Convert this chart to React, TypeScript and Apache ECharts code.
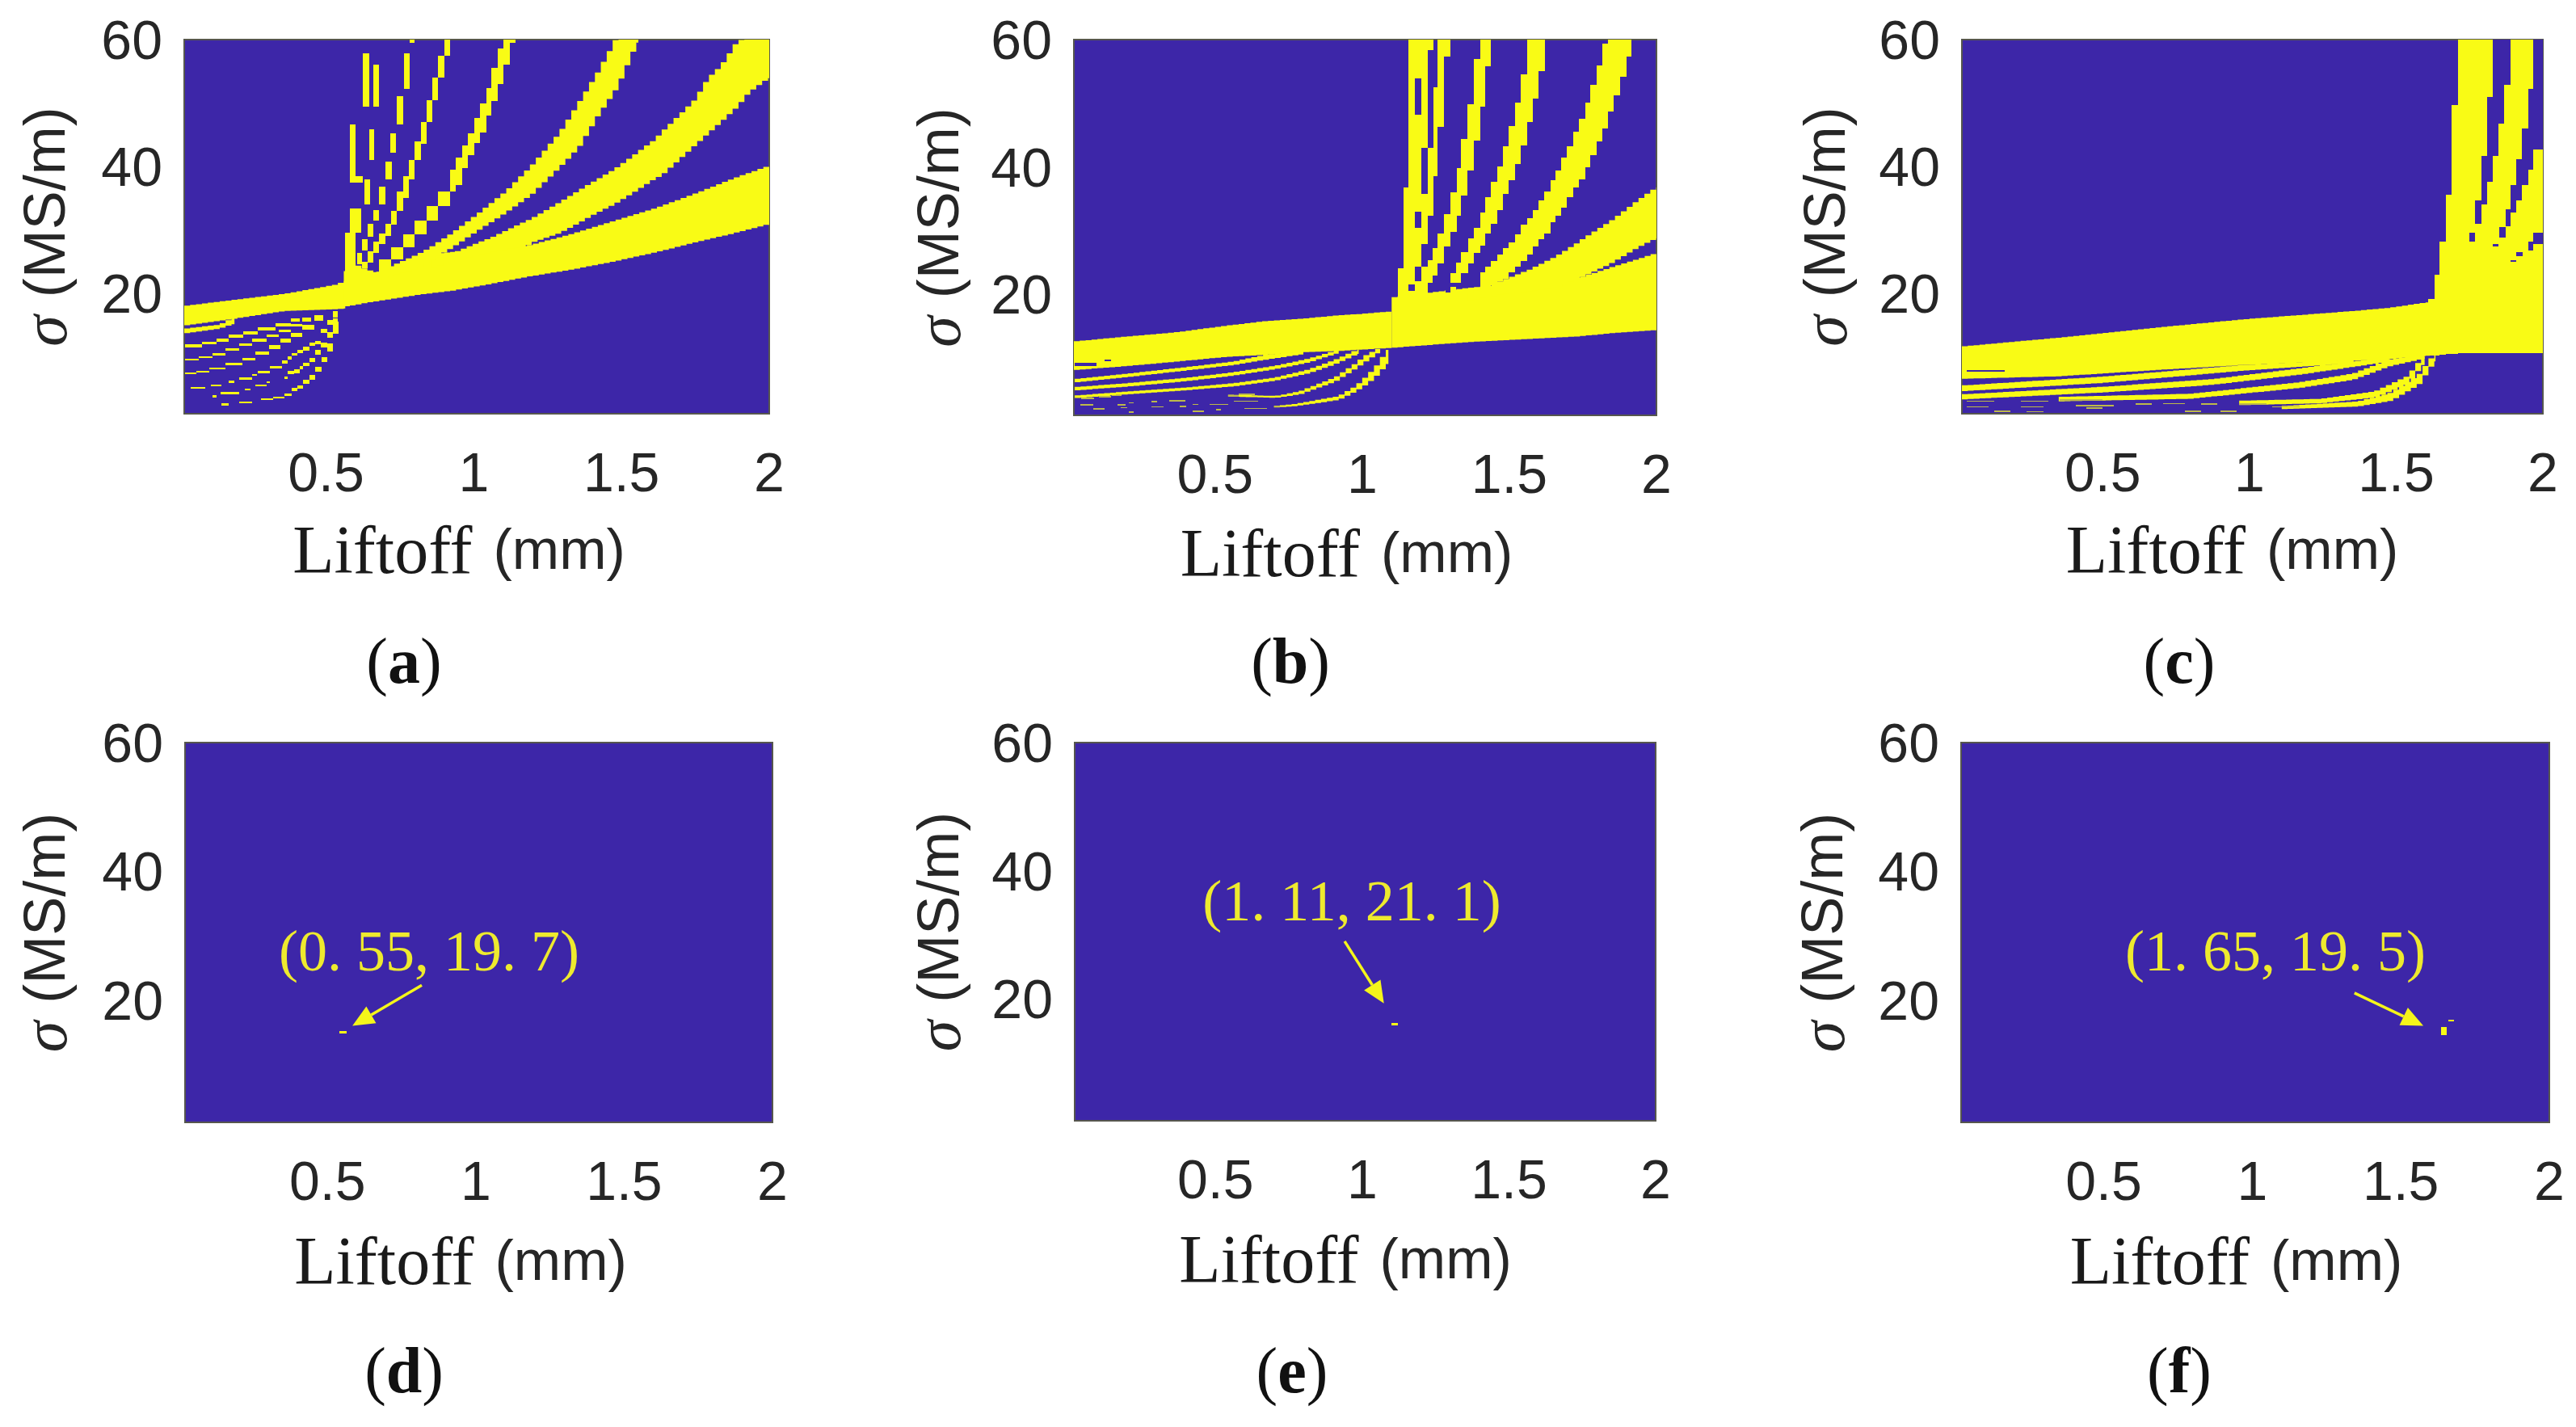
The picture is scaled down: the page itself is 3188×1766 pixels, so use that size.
import React, { useEffect, useRef } from "react";
import * as echarts from "echarts";

type Row = number[];
const INDIGO = "#3D26A8";
const YELLOW = "#F9FB15";
const FAINT = "#bdb94a";
const COLUMN = 0.02; // width in mm of one column of the original raster

const xTicks = [0.5, 1, 1.5, 2];
const yTicks = [20, 40, 60];

// ---------- panel (a): [x, low, high] outlines of the yellow regions
const aLeft: Row[] = [[0.02, 14.9, 18], [0.18, 15.9, 18.9], [0.36, 17.2, 19.9], [0.54, 17.5, 21.4], [0.565, 17.6, 22]];
const aSecond: Row[] = [[0.02, 13.65, 14.4], [0.14, 14.4, 15.05], [0.19, 15.2, 16.2]];
const aBandA: Row[] = [[0.56, 17.9, 22], [0.58, 18, 25], [0.64, 18.5, 23.7], [0.68, 18.8, 23.2], [0.82, 19.8, 26], [0.928, 20.4, 26.5], [1.056, 21.45, 27], [1.183, 22.6, 27.5], [1.329, 23.7, 29.3], [1.475, 25, 31.4], [1.621, 26.5, 33.5], [1.749, 28, 35.7], [1.885, 29.5, 38.2], [2, 30.9, 40.1]];
const aBandB: Row[] = [[0.856, 24, 25.2], [0.928, 25, 26.3], [1.065, 26.5, 28.9], [1.183, 27.5, 31.5], [1.2, 28, 31.85], [1.293, 29.5, 34.4], [1.338, 30.6, 35.7], [1.402, 32.3, 37.5], [1.475, 34, 39.5], [1.52, 35.25, 41], [1.612, 38, 44.2], [1.639, 38.65, 45.5], [1.749, 43.3, 50.5], [1.794, 45.2, 53.9], [1.84, 47.1, 56], [1.895, 49.5, 59.9], [1.931, 51.6, 60], [2, 54, 60]];
const aBandC: Row[] = [[0.67, 22, 23.2], [0.818, 24, 26.3], [0.856, 25.2, 27.3], [0.928, 27.2, 29.5], [1.019, 30, 32.7], [1.11, 32.7, 36.1], [1.2, 35.7, 40.3], [1.293, 39.9, 45.4], [1.357, 43, 50.1], [1.42, 47.9, 54.8], [1.48, 52, 59.9], [1.493, 53.1, 60], [1.557, 59.9, 60]];

// stair-stepped lines: [column start, low, high], the last row only closes the stair
const aLineD: Row[] = [[0.68, 23.3, 25.3], [0.72, 25.3, 27.3], [0.76, 27.3, 29.3], [0.8, 29.3, 31.5], [0.84, 31.5, 33.8], [0.88, 33.8, 36], [0.92, 36, 39.5], [0.939, 37, 41.4], [0.96, 39.7, 43.3], [0.981, 41.8, 45.2], [1.001, 43.7, 47.6], [1.022, 45.4, 49.9], [1.042, 48, 52.4], [1.06, 50.3, 55.6], [1.081, 53, 58.6], [1.101, 56, 60], [1.121, 59.5, 60], [1.142]];
const aLineE: Row[] = [[0.66, 26.3, 28.1], [0.68, 27.7, 29.4], [0.7, 29, 31], [0.72, 30.8, 33], [0.74, 33, 36], [0.76, 35, 38.5], [0.78, 38, 41], [0.8, 41, 44], [0.82, 43.5, 47], [0.84, 47, 50.5], [0.86, 50.5, 54], [0.88, 54, 57.5], [0.9, 57.5, 60], [0.92]];
const aFan1: Row[] = [[0.024, 11.4, 11.9], [0.08, 11.9, 12.4], [0.13, 12.4, 12.9], [0.17, 13, 13.5], [0.22, 13.5, 14], [0.27, 14.1, 14.6], [0.33, 14.8, 15.3], [0.38, 15.5, 16], [0.41]];
const aFan2: Row[] = [[0.024, 9.4, 9.7], [0.07, 9.8, 10.1], [0.115, 10.2, 10.6], [0.16, 10.9, 11.3], [0.207, 11.7, 12.1], [0.25, 12.4, 12.8], [0.298, 13.1, 13.5], [0.34, 13.9, 14.3], [0.38, 14.7, 15.2], [0.42, 15.5, 16.2], [0.45]];
const aFan3: Row[] = [[0.024, 7.2, 7.5], [0.06, 7.5, 7.8], [0.106, 8, 8.3], [0.16, 8.6, 9], [0.216, 9.4, 9.8], [0.26, 10.3, 10.8], [0.307, 11.2, 11.8], [0.345, 12.2, 12.8], [0.38, 13.1, 13.8], [0.42, 14.3, 15], [0.46, 15.6, 16.6], [0.49]];
const aFan4: Row[] = [[0.042, 4.9, 5.2], [0.09, 0, 0], [0.11, 5.3, 5.6], [0.146, 0, 0], [0.17, 5.9, 6.2], [0.19, 0, 0], [0.207, 6.4, 6.7], [0.25, 7, 7.3], [0.265, 0, 0], [0.27, 7.4, 7.7], [0.31, 8.1, 8.5], [0.35, 8.9, 9.4], [0.37, 9.6, 10.1], [0.385, 10.2, 10.6], [0.404, 10.5, 11.1], [0.423, 11, 11.6], [0.443, 11.7, 12.2], [0.463, 12, 12.5], [0.483, 13.7, 14.4], [0.503, 15, 15.8], [0.523, 16.2, 17.2], [0.54]];
const aFan5: Row[] = [[0.115, 3.6, 3.9], [0.13, 0, 0], [0.143, 4, 4.4], [0.207, 0, 0], [0.225, 4.7, 5], [0.245, 0, 0], [0.262, 5.3, 5.6], [0.3, 5.8, 6.1], [0.31, 0, 0], [0.36, 6.5, 6.8], [0.37, 7.3, 7.7], [0.392, 7.4, 8], [0.41, 8, 8.5], [0.423, 8.5, 9], [0.443, 9.1, 9.8], [0.463, 10.3, 11.1], [0.483, 11.5, 12.2], [0.503, 13, 13.9], [0.523, 15, 16.1], [0.54]];
const aFan6: Row[] = [[0.145, 2.3, 2.6], [0.17, 0, 0], [0.205, 2.6, 2.9], [0.25, 0, 0], [0.28, 3.2, 3.4], [0.32, 3.4, 3.7], [0.36, 3.8, 4.2], [0.385, 4.6, 5.1], [0.403, 5, 5.5], [0.423, 5.7, 6.3], [0.443, 6.4, 7.1], [0.463, 7.6, 8.4], [0.484, 9.1, 9.9], [0.503, 10.8, 12.1], [0.522, 13.6, 15.5], [0.542]];
// single blocks: [x0, x1, low, high]
const aBlocks: Row[] = [
  [0.563, 0.58, 18, 29.5], [0.58, 0.62, 29.5, 33.4], [0.58, 0.6, 37.5, 46.6], [0.6, 0.625, 37.5, 38.5],
  [0.625, 0.645, 49.4, 57.8], [0.66, 0.68, 49.4, 56], [0.647, 0.662, 41, 45.9], [0.63, 0.65, 34, 38],
  [0.58, 0.6, 23, 29.5], [0.622, 0.64, 26.7, 28.5], [0.642, 0.66, 28.9, 31], [0.66, 0.68, 31.5, 33.1],
  [0.605, 0.622, 24.6, 26.3], [0.622, 0.642, 23.9, 25], [0.642, 0.66, 24.8, 26.6],
  [0.783, 0.8, 59.5, 60], [0.763, 0.783, 52.2, 57.8], [0.74, 0.76, 46.6, 51.1], [0.717, 0.737, 42.1, 45.2],
  [0.702, 0.722, 37.9, 40.7], [0.68, 0.7, 34, 36.8],
];

// ---------- panel (b)
const bMain: Row[] = [[0.02, 8.1, 12.6], [0.206, 8.75, 13.4], [0.36, 9.4, 14], [0.544, 10.2, 15.1], [0.672, 10.5, 15.8], [0.8, 10.9, 16.2], [0.92, 11.1, 16.7], [0.988, 11.3, 16.9], [1.066, 11.5, 17.2], [1.1, 11.6, 17.3]];
const bBody: Row[] = [[1.1, 11.6, 19.5], [1.36, 12.5, 21], [1.739, 13.4, 22.6], [1.845, 13.9, 24.2], [2, 14.4, 26.45]];
const bBandB: Row[] = [[1.359, 19, 20.1], [1.478, 20, 22.2], [1.57, 20.5, 23.9], [1.661, 21, 26], [1.739, 22.6, 28.3], [1.753, 22.8, 28.8], [1.845, 24.8, 31.5], [1.936, 27.3, 34.7], [2, 28.8, 36.8]];
const bLineC: Row[] = [[1.401, 19.5, 23.4], [1.419, 20.5, 24.3], [1.437, 21.4, 25.2], [1.458, 22, 26.2], [1.478, 22.4, 27.3], [1.498, 23.5, 28.1], [1.519, 24.3, 29.4], [1.538, 25.2, 30.9], [1.561, 26.2, 31.95], [1.579, 27.5, 33.2], [1.6, 28.6, 34.7], [1.617, 29.6, 36.2], [1.639, 31.3, 37.9], [1.657, 32.4, 39.4], [1.675, 33.6, 41.5], [1.696, 35.3, 43.2], [1.716, 36.8, 45.5], [1.735, 38.1, 47.6], [1.758, 40, 50.1], [1.776, 41.9, 52.9], [1.797, 44, 56], [1.817, 46.1, 59.4], [1.835, 48.7, 60], [1.855, 51.2, 60], [1.877, 54.2, 60], [1.898, 57.3, 60], [1.916]];
const bLineD: Row[] = [[1.3, 20.3, 23.3], [1.318, 21.8, 25], [1.336, 23.3, 26.6], [1.359, 24.8, 28.8], [1.379, 26.5, 30.5], [1.4, 27.7, 32.9], [1.419, 29.6, 35.3], [1.437, 31.1, 37.7], [1.458, 33.2, 40.1], [1.478, 35.8, 43.2], [1.498, 37.9, 46.4], [1.519, 40.4, 50.1], [1.538, 43.4, 54.6], [1.561, 47, 60], [1.579, 50.8, 60], [1.6, 55, 60], [1.62]];
const bLineE: Row[] = [[1.222, 21.8, 25.4], [1.24, 23, 27.3], [1.257, 24.8, 29.6], [1.279, 27.5, 32.6], [1.3, 29.8, 36], [1.321, 32.4, 39.8], [1.336, 35.5, 44.4], [1.357, 39.4, 49.9], [1.378, 44.2, 56.9], [1.4, 49.5, 60], [1.419, 55.85, 60], [1.437]];
const bFan1: Row[] = [[0.023, 6.16, 6.7], [0.206, 7.03, 7.57], [0.407, 8.06, 8.6], [0.563, 8.9, 9.45], [0.672, 9.73, 10.5], [0.8, 10.6, 11.1]];
const bFan2: Row[] = [[0.023, 4.9, 5.43], [0.206, 5.53, 6.07], [0.407, 6.38, 6.92], [0.563, 7.23, 7.77], [0.709, 8.28, 8.82], [0.819, 9.3, 9.9], [0.92, 10.8, 11.3]];
const bFan3: Row[] = [[0.023, 3.7, 4.1], [0.206, 4.3, 4.75], [0.407, 4.95, 5.4], [0.563, 5.55, 6.05], [0.7, 6.4, 6.9], [0.819, 7.6, 8.2], [0.91, 9.05, 9.75], [0.988, 10.7, 11.4]];
const bFan4: Row[] = [[0.544, 3.95, 4.25], [0.709, 3.75, 4.05], [0.79, 4.3, 4.8], [0.91, 6.3, 7], [0.979, 8.35, 9.2], [1.015, 9.5, 10.5], [1.061, 11, 11.6]];
const bFan5: Row[] = [[0.7, 2.2, 2.45], [0.773, 2.45, 2.8], [0.92, 3.4, 4], [0.979, 4.75, 5.6], [1.02, 6, 7.3], [1.057, 7.5, 9.2], [1.089, 9.3, 11.6]];
const bBlocks: Row[] = [
  [1.101, 1.121, 16, 19.5], [1.121, 1.141, 16, 24.1], [1.141, 1.158, 16, 36.8], [1.158, 1.222, 18, 60],
  [1.222, 1.242, 58.4, 60], [1.222, 1.242, 32.4, 42.95], [1.242, 1.257, 38.5, 52.5], [1.257, 1.279, 46.3, 60], [1.279, 1.3, 57.3, 60],
];
const bHoles: Row[] = [
  [1.178, 1.202, 48.2, 53.95], [1.202, 1.222, 35.8, 42.95], [1.178, 1.202, 30.5, 33], [1.178, 1.202, 22, 24.3], [1.202, 1.222, 24.3, 27.9],
  [1.158, 1.178, 20.5, 21.6], [1.222, 1.24, 20.8, 21.8], [1.3, 1.318, 21.2, 21.8], [1.282, 1.3, 20.3, 20.8],
  [0.023, 0.096, 8.8, 9.2], [0.123, 0.146, 9.45, 9.7],
];
const bFaint: Row[] = [
  [0.041, 0.087, 2.5, 2.75], [0.087, 0.123, 1.9, 2.1], [0.169, 0.197, 2.55, 2.75], [0.178, 0.2, 2.1, 2.3], [0.206, 0.224, 1.4, 1.6], [0.206, 0.224, 2.85, 3],
  [0.283, 0.302, 3.05, 3.25], [0.283, 0.325, 2.25, 2.45], [0.343, 0.398, 3.15, 3.35], [0.38, 0.402, 2.3, 2.5], [0.425, 0.462, 1.55, 1.75], [0.425, 0.444, 2.6, 2.8],
  [0.48, 0.544, 2.6, 2.8], [0.503, 0.521, 1.8, 2], [0.544, 0.581, 3.95, 4.15], [0.563, 0.645, 3.1, 3.3], [0.599, 0.677, 2, 2.2], [0.7, 0.741, 2.25, 2.4], [0.581, 0.636, 4.2, 4.4],
  [0.045, 0.09, 3.6, 3.8], [0.105, 0.146, 3.8, 4], [0.15, 0.183, 4.05, 4.2],
];

// ---------- panel (c)
const cMain: Row[] = [[0.02, 6.5, 11.6], [0.352, 6.9, 13], [0.687, 7.9, 14.6], [0.984, 8.7, 15.9], [1.355, 9.4, 17.2], [1.476, 9.6, 17.7], [1.597, 10.1, 18.5], [1.615, 10.2, 18.6]];
const cFan1: Row[] = [[0.02, 4.55, 5.45], [0.5, 5.85, 6.85], [0.984, 7.8, 8.7], [1.355, 9, 9.5]];
const cFan2: Row[] = [[0.02, 3.25, 4.05], [0.5, 4.35, 5.25], [0.873, 5.55, 6.45], [1.17, 7.15, 8.15], [1.476, 9.2, 10]];
const cFan3: Row[] = [[0.35, 2.95, 3.65], [0.798, 3.35, 4.15], [1.17, 5.05, 5.95], [1.355, 6.35, 7.35], [1.476, 8.45, 9.55], [1.597, 9.7, 10.3]];
const cFan4: Row[] = [[0.965, 2.35, 3.05], [1.244, 2.65, 3.35], [1.43, 3.55, 4.55], [1.54, 5.65, 6.95], [1.597, 9.05, 10.3]];
const cFan5: Row[] = [[1.11, 1.7, 2.2], [1.374, 2.15, 2.95], [1.485, 3.05, 4.35], [1.578, 5.55, 7.15], [1.634, 9.4, 10.6]];
const cWall: Row[] = [[1.61, 10.2, 19.1], [1.63, 10.2, 22.9], [1.648, 10.3, 28.1], [1.669, 10.4, 35.5], [1.69, 10.4, 49.7], [1.71, 10.5, 60], [2]];
const cGap1: Row[] = [[1.75, 28.2, 29.6], [1.77, 31, 34.6], [1.791, 34, 41.6], [1.809, 37.6, 51], [1.829, 41.6, 60], [1.848, 46.7, 60], [1.868, 52.9, 60], [1.889]];
const cGap2: Row[] = [[1.852, 28.8, 30.4], [1.873, 30.6, 33.3], [1.889, 32.7, 37], [1.91, 34.6, 41.2], [1.928, 37, 46], [1.95, 39.5, 52.2], [1.966, 42.7, 60], [2]];
const cGap3: Row[] = [[1.889, 24.9, 25.15], [1.91, 25.8, 26.5], [1.93, 0, 0], [1.95, 26.8, 28.2], [1.966, 27.8, 29.6], [2]];
const cSpecks: Row[] = [[0.037, 0.167, 7.6, 7.85], [1.829, 1.849, 27.4, 27.8]];
const cFaint: Row[] = [
  [0.037, 0.13, 2.9, 3.1], [0.222, 0.315, 2.9, 3.1], [0.352, 0.5, 3.1, 3.3], [0.408, 0.538, 2.2, 2.4], [0.612, 0.668, 2.4, 2.6], [0.705, 0.78, 2.5, 2.7],
  [0.835, 0.891, 2.4, 2.6], [0.965, 1.058, 2.4, 2.6], [1.077, 1.17, 2, 2.2], [0.037, 0.111, 2, 2.2], [0.13, 0.185, 1.3, 1.5], [0.222, 0.297, 2, 2.2],
  [0.241, 0.297, 1.2, 1.4], [0.445, 0.5, 1.8, 2], [0.78, 0.835, 1.3, 1.5], [0.9, 0.956, 1.3, 1.5],
];

// ---------- panels (d), (e), (f): the cells left after intersection, arrows and their labels
const dDots: Row[] = [[0.54, 0.565, 14.8, 15.2]];
const eDots: Row[] = [[1.1, 1.122, 15.9, 16.3]];
const fDots: Row[] = [[1.635, 1.655, 14.6, 15.8], [1.66, 1.678, 16.65, 17]];
const dArrow: Row[] = [[0.818, 22.3, 0.584, 16]];
const eArrow: Row[] = [[0.94, 29, 1.074, 19.3]];
const fArrow: Row[] = [[1.344, 21.1, 1.576, 16]];
const dNote = "(0. 55, 19. 7)";
const eNote = "(1. 11, 21. 1)";
const fNote = "(1. 65, 19. 5)";

const steps = (rows: Row[]): Row[] => {
  const out: Row[] = [];
  for (let i = 0; i < rows.length - 1; i++) {
    if (rows[i][1] !== rows[i][2]) out.push([rows[i][0], rows[i + 1][0], rows[i][1], rows[i][2]]);
  }
  return out;
};

type Panel = {
  rect: number[]; // left, top, width, height
  caption: string; capX: number; capY: number;
  yGap: number; xGap: number; xShift: number; labelGap: number;
  bands?: Row[][]; cells?: Row[]; holes?: Row[]; faint?: Row[]; arrow?: Row[];
  note?: string; noteX?: number; noteY?: number;
};

const panels: Panel[] = [
  {
    rect: [228, 49, 724, 463], caption: "a", capX: 500, capY: 818, yGap: 134, xGap: 126, xShift: 44, labelGap: 38,
    bands: [aLeft, aSecond, aBandA, aBandB, aBandC],
    cells: [...aBlocks, ...steps(aLineD), ...steps(aLineE), ...steps(aFan1), ...steps(aFan2), ...steps(aFan3), ...steps(aFan4), ...steps(aFan5), ...steps(aFan6)],
  },
  {
    rect: [1329, 49, 721, 465], caption: "b", capX: 1597, capY: 818, yGap: 129, xGap: 128, xShift: 46, labelGap: 38,
    bands: [bMain, bBody, bBandB, bFan1, bFan2, bFan3, bFan4, bFan5],
    cells: [...bBlocks, ...steps(bLineC), ...steps(bLineD), ...steps(bLineE)], holes: bHoles, faint: bFaint,
  },
  {
    rect: [2428, 49, 719, 463], caption: "c", capX: 2697, capY: 818, yGap: 131, xGap: 126, xShift: 50, labelGap: 38,
    bands: [cMain, cFan1, cFan2, cFan3, cFan4, cFan5],
    cells: steps(cWall), holes: [...steps(cGap1), ...steps(cGap2), ...steps(cGap3), ...cSpecks], faint: cFaint,
  },
  {
    rect: [229, 919, 727, 470], caption: "d", capX: 500, capY: 1696, yGap: 135, xGap: 129, xShift: 45, labelGap: 38,
    cells: dDots, arrow: dArrow, note: dNote, noteX: 531, noteY: 1177,
  },
  {
    rect: [1330, 919, 719, 468], caption: "e", capX: 1599, capY: 1696, yGap: 130, xGap: 129, xShift: 49, labelGap: 38,
    cells: eDots, arrow: eArrow, note: eNote, noteX: 1673, noteY: 1115,
  },
  {
    rect: [2427, 919, 728, 470], caption: "f", capX: 2697, capY: 1696, yGap: 133, xGap: 129, xShift: 47, labelGap: 38,
    cells: fDots, arrow: fArrow, note: fNote, noteX: 2816, noteY: 1177,
  },
];

const cellSeries = (i: number, data: Row[], fill: string, z: number) => ({
  type: "custom", xAxisIndex: i, yAxisIndex: i, silent: true, clip: true, z,
  encode: { x: [0, 1], y: [2, 3] },
  data,
  renderItem: (_: any, api: any) => {
    const a = api.coord([api.value(0), api.value(3)]);
    const b = api.coord([api.value(1), api.value(2)]);
    const x = Math.round(a[0]), y = Math.round(a[1]);
    return {
      type: "rect",
      shape: { x, y, width: Math.max(1, Math.round(b[0]) - x), height: Math.max(1, Math.round(b[1]) - y) },
      style: { fill },
    };
  },
});

// An outline is drawn the way the raster shows it: each edge is held flat over one column.
const edgeAt = (rows: Row[], x: number, dim: number) => {
  for (let i = 0; i < rows.length - 1; i++) {
    if (x <= rows[i + 1][0]) {
      const t = (x - rows[i][0]) / (rows[i + 1][0] - rows[i][0]);
      return rows[i][dim] + t * (rows[i + 1][dim] - rows[i][dim]);
    }
  }
  return rows[rows.length - 1][dim];
};

const bandSeries = (i: number, bands: Row[][]) => ({
  type: "custom", xAxisIndex: i, yAxisIndex: i, silent: true, clip: true, z: 2,
  encode: { x: 0, y: 0 },
  data: bands.map((_, k) => [k]),
  renderItem: (params: any, api: any) => {
    const rows = bands[params.dataIndex];
    const first = rows[0][0], last = rows[rows.length - 1][0];
    const top: number[][] = [], low: number[][] = [];
    for (let x = first; x < last - 1e-6; x += COLUMN) {
      const end = Math.min(x + COLUMN, last);
      const mid = (x + end) / 2;
      const lo = edgeAt(rows, mid, 1), hi = edgeAt(rows, mid, 2);
      top.push(api.coord([x, hi]), api.coord([end, hi]));
      low.push(api.coord([x, lo]), api.coord([end, lo]));
    }
    return { type: "polygon", shape: { points: [...top, ...low.reverse()] }, style: { fill: YELLOW } };
  },
});

const arrowSeries = (i: number, data: Row[]) => ({
  type: "custom", xAxisIndex: i, yAxisIndex: i, silent: true, z: 6,
  encode: { x: [0, 2], y: [1, 3] },
  data,
  renderItem: (_: any, api: any) => {
    const s = api.coord([api.value(0), api.value(1)]);
    const t = api.coord([api.value(2), api.value(3)]);
    const dx = t[0] - s[0], dy = t[1] - s[1];
    const len = Math.hypot(dx, dy);
    const ux = dx / len, uy = dy / len;
    const bx = t[0] - ux * 27, by = t[1] - uy * 27;
    return {
      type: "group",
      children: [
        { type: "line", shape: { x1: s[0], y1: s[1], x2: bx, y2: by }, style: { stroke: "#f5f51a", lineWidth: 3.5 } },
        {
          type: "polygon",
          shape: { points: [[t[0], t[1]], [bx - uy * 12, by + ux * 12], [bx + uy * 12, by - ux * 12]] },
          style: { fill: "#f5f51a" },
        },
      ],
    };
  },
});

const buildOption = () => {
  const grid: any[] = [], xAxis: any[] = [], yAxis: any[] = [], series: any[] = [], graphic: any[] = [];
  panels.forEach((p, i) => {
    const [left, top, width, height] = p.rect;
    grid.push({ left, top, width, height, show: true, backgroundColor: INDIGO, borderColor: "#56564e", borderWidth: 2 });
    xAxis.push({
      type: "value", gridIndex: i, min: 0.02, max: 2,
      axisLine: { show: false }, axisTick: { show: false }, splitLine: { show: false },
      axisLabel: { customValues: xTicks, margin: p.labelGap, fontSize: 68, fontFamily: "Liberation Sans", color: "#262626", formatter: (v: number) => String(v) },
      name: "{l|Liftoff}{u|(mm)}", nameLocation: "middle", nameGap: p.xGap,
      nameTextStyle: {
        padding: [0, p.xShift, 0, 0],
        rich: {
          l: { fontFamily: "Liberation Serif", fontSize: 84, color: "#1a1a1a", padding: [0, 26, 0, 0] },
          u: { fontFamily: "Liberation Sans", fontSize: 70, color: "#262626" },
        },
      },
    });
    yAxis.push({
      type: "value", gridIndex: i, min: 1, max: 60,
      axisLine: { show: false }, axisTick: { show: false }, splitLine: { show: false },
      axisLabel: { customValues: yTicks, margin: 27, fontSize: 68, fontFamily: "Liberation Sans", color: "#262626" },
      name: "{s|σ}{u|(MS/m)}", nameLocation: "middle", nameRotate: 90, nameGap: p.yGap,
      nameTextStyle: {
        rich: {
          s: { fontFamily: "Liberation Serif", fontStyle: "italic", fontSize: 78, color: "#262626", padding: [0, 22, 0, 0] },
          u: { fontFamily: "Liberation Sans", fontSize: 72, color: "#262626" },
        },
      },
    });
    if (p.bands) series.push(bandSeries(i, p.bands));
    if (p.cells) series.push(cellSeries(i, p.cells, YELLOW, 3));
    if (p.holes) series.push(cellSeries(i, p.holes, INDIGO, 4));
    if (p.faint) series.push(cellSeries(i, p.faint, FAINT, 5));
    if (p.arrow) series.push(arrowSeries(i, p.arrow));
    graphic.push({
      type: "text", x: p.capX, y: p.capY, z: 10,
      style: {
        text: `{p|(}{b|${p.caption}}{p|)}`, align: "center", verticalAlign: "middle",
        rich: {
          p: { fontFamily: "Liberation Serif", fontSize: 80, fill: "#111111", color: "#111111" },
          b: { fontFamily: "Liberation Serif", fontWeight: "bold", fontSize: 80, fill: "#111111", color: "#111111" },
        },
      },
    });
    if (p.note) {
      graphic.push({
        type: "text", x: p.noteX, y: p.noteY, z: 10,
        style: { text: p.note, align: "center", verticalAlign: "middle", fontFamily: "Liberation Serif", fontSize: 72, fill: "#eeea2e" },
      });
    }
  });
  return { animation: false, backgroundColor: "#ffffff", grid, xAxis, yAxis, series, graphic };
};

export default function App() {
  const ref = useRef<HTMLDivElement>(null);
  useEffect(() => {
    const chart = echarts.init(ref.current!, undefined, { renderer: "svg" });
    chart.setOption(buildOption() as any);
    return () => chart.dispose();
  }, []);
  return <div ref={ref} style={{ position: "fixed", left: 0, top: 0, width: 3188, height: 1766 }} />;
}
